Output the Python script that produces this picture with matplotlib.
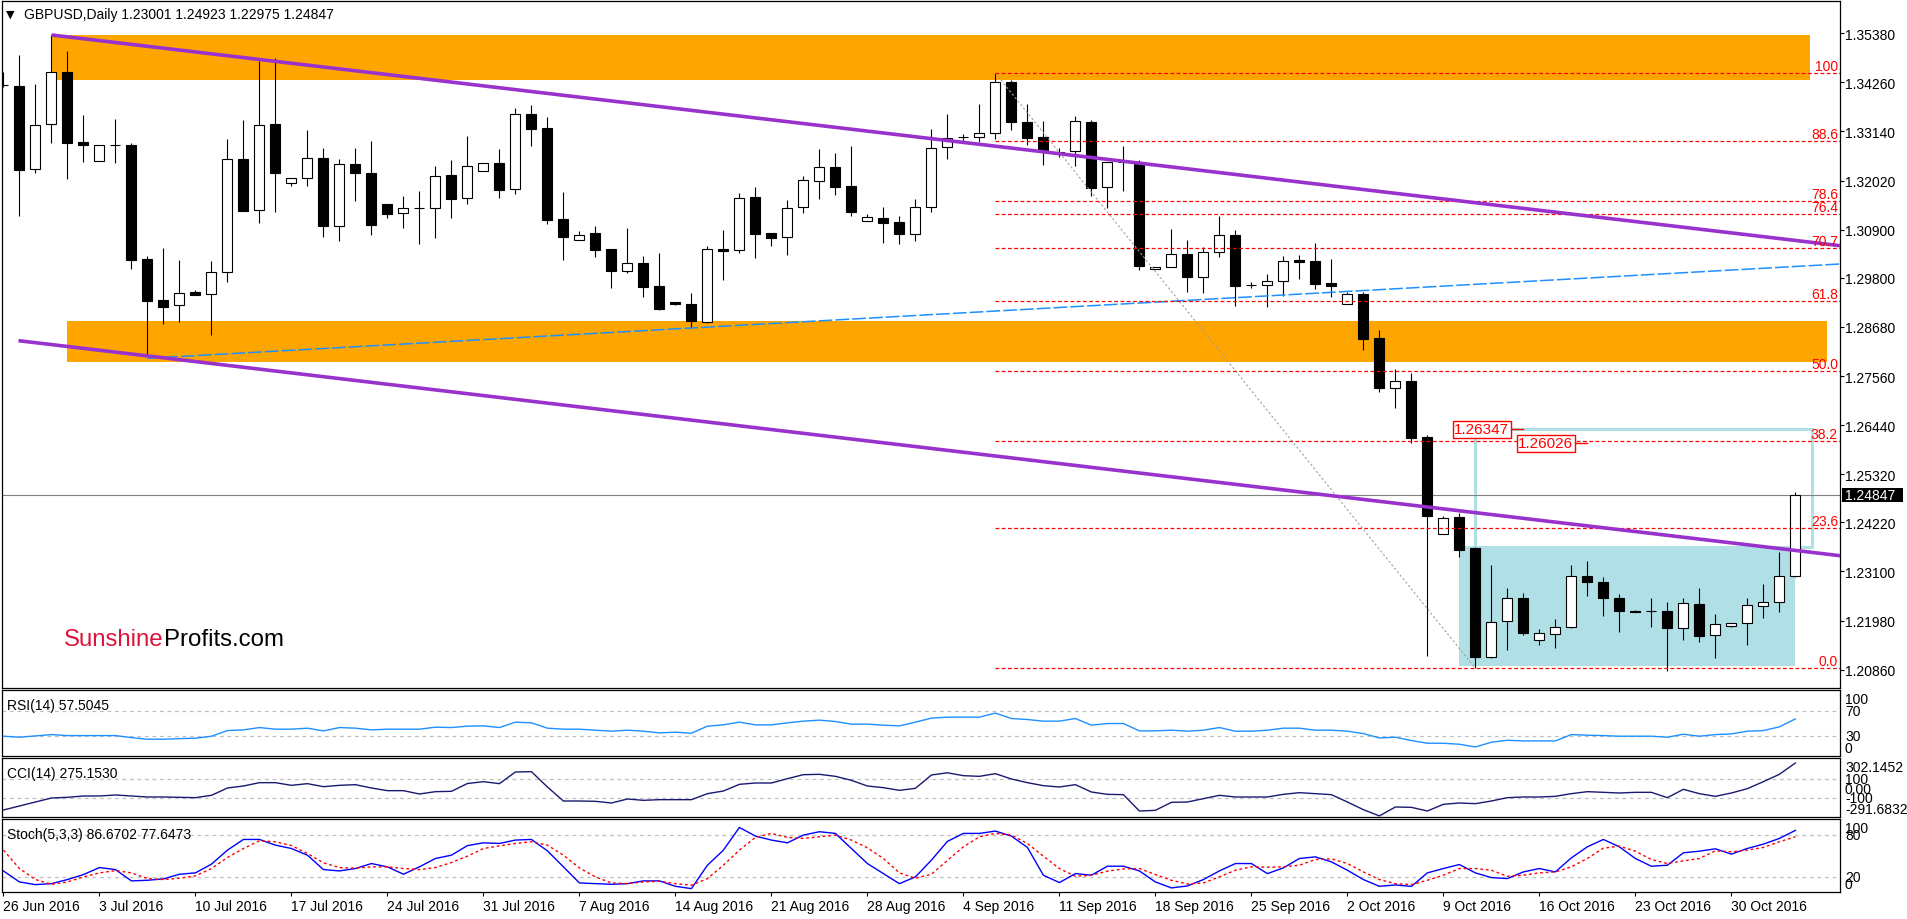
import numpy as np
import matplotlib
matplotlib.use('Agg')
import matplotlib.pyplot as plt
import matplotlib.transforms as mtransforms
from matplotlib.patches import Rectangle

plt.rcParams['font.family'] = ['Liberation Sans', 'DejaVu Sans']
plt.rcParams['font.size'] = 10

# GBPUSD daily, 26 Jun 2016 .. 3 Nov 2016 (broker with Sunday bars, 6 bars a week)
opens = [
    1.34205, 1.34170, 1.32290, 1.33303, 1.34490, 1.32892, 1.32459, 1.32824, 1.32831, 1.30230,
    1.29294, 1.29174, 1.29477, 1.29424, 1.29926, 1.32505, 1.31341, 1.33303, 1.31957, 1.32071,
    1.32527, 1.30990, 1.32397, 1.32192, 1.31478, 1.31272, 1.31400, 1.31387, 1.32140, 1.31615,
    1.32231, 1.32413, 1.31827, 1.33538, 1.33219, 1.31143, 1.30657, 1.30823, 1.30458, 1.29963,
    1.30139, 1.29621, 1.29249, 1.29203, 1.28799, 1.30458, 1.30428, 1.31644, 1.30816, 1.30725,
    1.31409, 1.32016, 1.32322, 1.31889, 1.31090, 1.31158, 1.31067, 1.30807, 1.31409, 1.32778,
    1.33013, 1.33007, 1.33098, 1.34261, 1.33349, 1.33007, 1.32664, 1.32687, 1.33356, 1.31866,
    1.32450, 1.32404, 1.30002, 1.30041, 1.30337, 1.29826, 1.30383, 1.30777, 1.29644, 1.29644,
    1.29735, 1.30200, 1.30177, 1.29675, 1.29196, 1.29424, 1.28421, 1.27280, 1.27453, 1.26162,
    1.23949, 1.24337, 1.23636, 1.21142, 1.21964, 1.22488, 1.21537, 1.21674, 1.21827, 1.23004,
    1.22853, 1.22488, 1.22206, 1.22192, 1.22192, 1.21804, 1.22352, 1.21651, 1.21849, 1.21918,
    1.22320, 1.22397, 1.23001]
highs = [
    1.34503, 1.34884, 1.34223, 1.35341, 1.34982, 1.33515, 1.32824, 1.33424, 1.32870, 1.30291,
    1.30481, 1.30207, 1.29523, 1.30177, 1.32968, 1.33401, 1.34754, 1.34809, 1.32071, 1.33173,
    1.32762, 1.32505, 1.32762, 1.32922, 1.31478, 1.31667, 1.31781, 1.32352, 1.32489, 1.33036,
    1.32420, 1.32740, 1.33682, 1.33744, 1.33470, 1.31759, 1.30862, 1.30983, 1.30458, 1.30937,
    1.30305, 1.30367, 1.29249, 1.29454, 1.30520, 1.30892, 1.31729, 1.31866, 1.30816, 1.31576,
    1.32124, 1.32740, 1.32648, 1.32808, 1.31257, 1.31409, 1.31204, 1.31599, 1.33196, 1.33538,
    1.33082, 1.33766, 1.34470, 1.34314, 1.33766, 1.33372, 1.32762, 1.33486, 1.33408, 1.32443,
    1.32815, 1.32482, 1.30054, 1.30914, 1.30657, 1.30497, 1.31218, 1.30892, 1.29712, 1.29888,
    1.30291, 1.30321, 1.30595, 1.30230, 1.29470, 1.29470, 1.28610, 1.27720, 1.27622, 1.26214,
    1.24366, 1.24428, 1.23666, 1.23248, 1.22717, 1.22609, 1.21788, 1.22016, 1.23248, 1.23346,
    1.22968, 1.22580, 1.22220, 1.22488, 1.22411, 1.22488, 1.22717, 1.22123, 1.21918, 1.22488,
    1.22808, 1.23552, 1.24923]
lows = [
    1.34147, 1.31218, 1.32185, 1.32877, 1.32055, 1.32450, 1.32459, 1.32420, 1.30002, 1.28040,
    1.28747, 1.28799, 1.29408, 1.28503, 1.29712, 1.31320, 1.31058, 1.31309, 1.31895, 1.31895,
    1.30739, 1.30647, 1.31560, 1.30777, 1.31165, 1.30944, 1.30572, 1.30709, 1.31165, 1.31492,
    1.32231, 1.31622, 1.31720, 1.32808, 1.31035, 1.30214, 1.30657, 1.30282, 1.29561, 1.29910,
    1.29356, 1.29066, 1.29180, 1.28649, 1.28770, 1.29758, 1.30367, 1.30246, 1.30533, 1.30328,
    1.31286, 1.31599, 1.31697, 1.31218, 1.31090, 1.30602, 1.30572, 1.30647, 1.31295, 1.32511,
    1.32906, 1.32892, 1.32968, 1.33180, 1.32838, 1.32381, 1.32550, 1.32359, 1.31674, 1.31387,
    1.31788, 1.29986, 1.30002, 1.30041, 1.29470, 1.29454, 1.30282, 1.29164, 1.29561, 1.29142,
    1.29393, 1.29774, 1.29545, 1.29370, 1.29196, 1.28160, 1.27188, 1.26830, 1.26025, 1.21179,
    1.23949, 1.23438, 1.20890, 1.21130, 1.21316, 1.21651, 1.21430, 1.21348, 1.21804, 1.22534,
    1.22091, 1.21713, 1.22170, 1.21840, 1.20824, 1.21544, 1.21485, 1.21119, 1.21826, 1.21430,
    1.22046, 1.22183, 1.22975]
closes = [
    1.34200, 1.32267, 1.33280, 1.34490, 1.32883, 1.32838, 1.32824, 1.32830, 1.30214, 1.29278,
    1.29142, 1.29447, 1.29415, 1.29926, 1.32505, 1.31332, 1.33280, 1.32199, 1.32071, 1.32527,
    1.30990, 1.32397, 1.32199, 1.31012, 1.31263, 1.31400, 1.31395, 1.32117, 1.31606, 1.32345,
    1.32420, 1.31811, 1.33531, 1.33203, 1.31127, 1.30739, 1.30771, 1.30442, 1.29963, 1.30132,
    1.29598, 1.29089, 1.29210, 1.28822, 1.30458, 1.30419, 1.31615, 1.30807, 1.30716, 1.31387,
    1.32025, 1.32322, 1.31879, 1.31309, 1.31181, 1.31058, 1.30807, 1.31409, 1.32756, 1.32984,
    1.33018, 1.33098, 1.34261, 1.33349, 1.32997, 1.32724, 1.32648, 1.33372, 1.31857, 1.32443,
    1.32432, 1.30077, 1.30054, 1.30337, 1.29826, 1.30383, 1.30777, 1.29621, 1.29640, 1.29735,
    1.30191, 1.30161, 1.29659, 1.29621, 1.29424, 1.28411, 1.27280, 1.27453, 1.26139, 1.24373,
    1.24314, 1.23597, 1.21142, 1.21941, 1.22488, 1.21697, 1.21690, 1.21827, 1.23004, 1.22853,
    1.22488, 1.22206, 1.22183, 1.22188, 1.21804, 1.22374, 1.21621, 1.21902, 1.21918, 1.22342,
    1.22397, 1.23004, 1.24847]

rsi = [
    29.9, 28.3, 30.4, 32.5, 30.9, 30.9, 30.9, 30.9, 27.7, 25.1,
    25.1, 26.1, 26.7, 29.9, 38.9, 40.0, 43.7, 41.1, 41.1, 42.7,
    38.4, 43.7, 42.7, 40.0, 41.1, 41.1, 41.1, 44.3, 43.7, 45.9,
    46.4, 43.7, 52.3, 51.2, 42.7, 41.1, 41.1, 39.5, 37.9, 39.5,
    37.9, 35.2, 36.3, 34.7, 45.9, 48.0, 52.3, 48.0, 48.0, 51.2,
    53.9, 55.5, 53.3, 49.1, 49.1, 47.5, 46.4, 52.3, 58.7, 60.3,
    60.3, 60.3, 66.7, 58.1, 56.5, 53.9, 53.9, 58.1, 47.5, 50.1,
    50.1, 38.4, 38.4, 39.5, 37.9, 39.5, 43.7, 37.9, 37.9, 39.5,
    42.7, 42.7, 39.5, 39.5, 37.9, 34.1, 27.2, 28.3, 23.0, 18.7,
    18.7, 17.1, 12.8, 20.3, 23.5, 22.4, 22.4, 22.4, 32.5, 31.5,
    30.9, 29.9, 29.9, 29.9, 28.3, 33.1, 29.9, 32.5, 33.6, 37.9,
    38.9, 44.8, 57.5045]
cci = [
    -228.5, -185.6, -142.8, -99.9, -92.8, -78.5, -78.5, -67.8, -78.5, -89.2,
    -89.2, -92.8, -96.4, -71.4, 7.2, 28.6, 64.3, 64.3, 35.7, 53.6,
    21.4, 35.7, 42.9, 7.2, -21.4, -21.4, -57.1, -32.1, -28.5, 55.0,
    75.0, 53.6, 178.6, 182.1, 17.9, -132.1, -132.1, -135.6, -153.5, -110.7,
    -125.0, -117.8, -117.8, -117.8, -53.5, -25.0, 46.4, 60.7, 60.7, 107.1,
    150.0, 153.6, 132.1, 89.3, 28.6, 10.7, -17.8, 3.6, 146.4, 170.0,
    139.3, 132.1, 160.7, 103.6, 64.3, 32.2, 17.9, 42.9, -35.7, -60.7,
    -64.2, -239.2, -232.1, -146.4, -142.8, -107.1, -71.4, -89.2, -89.2, -89.2,
    -60.7, -42.8, -53.5, -64.2, -142.8, -225.0, -291.7, -196.4, -200.0, -239.2,
    -167.8, -153.5, -160.6, -132.1, -96.4, -89.2, -89.2, -82.1, -53.5, -32.1,
    -39.2, -46.4, -39.2, -39.2, -96.4, -7.1, -53.5, -82.1, -46.4, 0.0,
    75.0, 153.6, 275.1530]
stoch_k = [
    29.0, 13.3, 9.5, 10.9, 16.7, 23.8, 33.8, 30.9, 14.8, 15.7,
    17.6, 24.3, 26.2, 38.6, 58.6, 73.8, 73.8, 65.7, 60.9, 51.4,
    30.9, 29.0, 32.4, 39.5, 34.8, 24.3, 34.8, 46.7, 51.4, 65.0,
    69.0, 68.1, 72.9, 73.8, 57.6, 34.8, 11.9, 10.9, 10.0, 10.9,
    14.8, 14.8, 7.1, 3.8, 37.1, 58.6, 90.9, 78.6, 72.9, 69.0,
    80.0, 84.8, 82.4, 60.9, 39.5, 25.2, 10.9, 20.5, 44.3, 71.0,
    82.4, 82.4, 85.7, 78.6, 62.4, 22.9, 12.4, 25.2, 22.9, 35.7,
    35.7, 29.0, 13.3, 4.8, 7.6, 16.7, 29.0, 39.5, 39.5, 25.2,
    33.3, 46.7, 49.0, 41.9, 30.0, 16.7, 7.1, 9.0, 7.0, 26.2,
    32.4, 38.1, 26.2, 19.5, 18.1, 27.6, 32.4, 27.6, 47.6, 63.3,
    73.8, 63.3, 46.7, 35.7, 37.1, 54.8, 57.1, 60.5, 52.9, 61.0,
    67.1, 75.2, 86.6702]
stoch_d = [
    58.6, 32.4, 16.7, 10.0, 13.3, 20.5, 26.2, 29.5, 26.2, 18.1,
    16.7, 18.6, 21.9, 32.4, 48.1, 60.9, 71.9, 70.5, 65.2, 53.8,
    40.5, 33.8, 32.9, 34.8, 34.8, 32.4, 30.9, 33.8, 40.9, 50.0,
    60.9, 64.7, 68.1, 70.5, 65.7, 51.4, 33.3, 20.5, 11.9, 10.9,
    13.3, 14.3, 10.9, 8.6, 18.1, 37.1, 58.6, 76.7, 82.4, 76.7,
    75.2, 77.6, 80.0, 72.9, 61.9, 46.7, 26.2, 18.6, 24.3, 44.0,
    63.3, 77.6, 82.4, 80.0, 68.1, 50.0, 32.4, 21.4, 22.9, 28.6,
    31.9, 32.4, 23.8, 15.7, 10.5, 11.9, 20.5, 30.0, 34.8, 34.3,
    34.8, 37.1, 45.2, 46.2, 39.5, 27.6, 16.7, 10.9, 9.5, 15.7,
    22.9, 32.4, 32.4, 30.0, 21.4, 22.9, 26.2, 27.6, 34.8, 46.7,
    61.4, 64.3, 57.1, 45.2, 39.5, 43.3, 46.7, 57.6, 56.2, 58.6,
    62.4, 70.5, 77.6473]

price_ticks = [1.35380, 1.34260, 1.33140, 1.32020, 1.30900, 1.29800, 1.28680,
               1.27560, 1.26440, 1.25320, 1.24220, 1.23100, 1.21980, 1.20860]
date_bars = list(range(0, 109, 6))
date_labels = ['26 Jun 2016', '3 Jul 2016', '10 Jul 2016', '17 Jul 2016', '24 Jul 2016',
               '31 Jul 2016', '7 Aug 2016', '14 Aug 2016', '21 Aug 2016', '28 Aug 2016',
               '4 Sep 2016', '11 Sep 2016', '18 Sep 2016', '25 Sep 2016', '2 Oct 2016',
               '9 Oct 2016', '16 Oct 2016', '23 Oct 2016', '30 Oct 2016']

# drawings (bar index, price)
fib_start, fib_end = 62, 92
fib_high, fib_low = 1.34470, 1.20890
fib_levels = [0.0, 0.236, 0.382, 0.5, 0.618, 0.707, 0.764, 0.786, 0.886, 1.0]
fib_labels = ['0.0', '23.6', '38.2', '50.0', '61.8', '70.7', '76.4', '78.6', '88.6', '100']
zone_upper = (3.0, 112.9, 1.34314, 1.35341)
zone_lower = (4.0, 113.95, 1.27887, 1.28815)
box_fill = (91, 112, 1.20951, 1.23675)
box_target = (92, 113.05, 1.23652, 1.26347)
chan_upper = ((3, 1.35341), (114.8, 1.30533))
chan_lower = ((0.94, 1.28366), (114.8, 1.23460))
blue_line = ((9, 1.27964), (114.8, 1.30116))
price_marks = [(95, 1.26347), (99, 1.26026)]
cci_max, cci_min = 302.1452, -291.6832

W, H = 1908, 920
fig = plt.figure(figsize=(W / 100, H / 100), dpi=100)


def panel(top, bottom):
    return fig.add_axes([2 / W, 1 - bottom / H, 1838 / W, (bottom - top) / H])


ax = panel(2, 689)
ax_rsi = panel(691, 757)
ax_cci = panel(759, 818)
ax_sto = panel(820, 893)

n = len(closes)
x = np.arange(n)
o, h, l, c = (np.array(v) for v in (opens, highs, lows, closes))
xlim = (-0.09, 114.79)

for a in (ax, ax_rsi, ax_cci, ax_sto):
    a.set_xlim(xlim)
    a.tick_params(axis='x', bottom=False, labelbottom=False)
    a.tick_params(axis='y', left=False, labelleft=False, right=False, labelright=False)
    for s in a.spines.values():
        s.set_linewidth(0.9)
        s.set_color('black')

# ---- main price panel ----
ax.set_ylim(1.20442, 1.36116)
ax.set_yticks(price_ticks)
ax.set_yticklabels([f'{p:.5f}' for p in price_ticks])
ax.tick_params(axis='y', right=True, labelright=True, direction='out', length=3,
               width=0.8, pad=0.5, labelsize=10)

for (x0, x1, y0, y1) in (zone_upper, zone_lower):
    ax.add_patch(Rectangle((x0, y0), x1 - x0, y1 - y0, facecolor='#FFA500',
                           edgecolor='none', zorder=1))
x0, x1, y0, y1 = box_fill
ax.add_patch(Rectangle((x0, y0), x1 - x0, y1 - y0, facecolor='#B0E0E6',
                       edgecolor='none', zorder=1))
x0, x1, y0, y1 = box_target
ax.add_patch(Rectangle((x0, y0), x1 - x0, y1 - y0, fill=False,
                       edgecolor='#B0E0E6', lw=2.2, zorder=2))

ax.axhline(c[-1], color='#808080', lw=0.8, zorder=2)

# candles
ax.vlines(x, l, h, color='black', lw=0.8, zorder=3)
body_lo = np.minimum(o, c)
body_h = np.maximum(np.abs(c - o), 0.00003)
ax.bar(x, body_h, 0.62, bottom=body_lo, color=np.where(c >= o, 'white', 'black'),
       edgecolor='black', linewidth=0.8, zorder=4)

# trend lines
for (p0, p1) in (chan_upper, chan_lower):
    ax.plot([p0[0], p1[0]], [p0[1], p1[1]], color='#9932CC', lw=2.6,
            solid_capstyle='butt', zorder=6)
ax.plot([blue_line[0][0], blue_line[1][0]], [blue_line[0][1], blue_line[1][1]],
        color='#1E90FF', lw=1.1, dashes=(9, 2), zorder=5)

# fibonacci retracement
ax.plot([fib_start, fib_end], [fib_high, fib_low], color='#A0A0A0', lw=0.8,
        ls=(0, (2, 2)), zorder=5)
fib_prices = [fib_low + lv * (fib_high - fib_low) for lv in fib_levels]
ax.hlines(fib_prices, fib_start, xlim[1], color='#FF0000', lw=0.9,
          linestyles=(0, (3, 2)), zorder=5)
lab_tr = mtransforms.offset_copy(ax.get_yaxis_transform(), fig=fig, x=-2, y=3,
                                 units='dots')
for fp, fl in zip(fib_prices, fib_labels):
    ax.text(1.0, fp, fl, transform=lab_tr, ha='right', va='baseline',
            color='#FF0000', fontsize=10, zorder=7)

# price labels
for bx, bp in price_marks:
    ax.plot([bx - 0.7, bx], [bp, bp], color='#FF0000', lw=1, zorder=7)
    ttr = mtransforms.offset_copy(ax.transData, fig=fig, x=-3, y=0, units='dots')
    ax.text(bx - 0.7, bp, f'{bp:.5f}', transform=ttr, ha='right', va='center',
            color='#FF0000', fontsize=11, zorder=8,
            bbox=dict(boxstyle='square,pad=0.1', facecolor='white',
                      edgecolor='#FF0000', lw=1))

# current price tag on axis
ytr = ax.get_yaxis_transform()
px_p = (1.36116 - 1.20442) / 687
ax.add_patch(Rectangle((1.0 + 2 / 1838, c[-1] - 7 * px_p), 61 / 1838, 14 * px_p,
                       transform=ytr, facecolor='black', edgecolor='none',
                       clip_on=False, zorder=9))
ax.text(1.0 + 5 / 1838, c[-1], f'{c[-1]:.5f}', transform=ytr, ha='left',
        va='center', color='white', fontsize=10, zorder=10, clip_on=False)

# header and watermark
htr = mtransforms.offset_copy(ax.transAxes, fig=fig, x=22, y=-16.5, units='dots')
ax.text(0, 1, f'GBPUSD,Daily {o[-1]:.5f} {h[-1]:.5f} {l[-1]:.5f} {c[-1]:.5f}',
        transform=htr, ha='left', va='baseline', fontsize=10, zorder=10)
ttr2 = mtransforms.offset_copy(ax.transAxes, fig=fig, x=4, y=-16, units='dots')
ax.text(0, 1, '\u25bc', transform=ttr2, ha='left', va='baseline', fontsize=8,
        family=['DejaVu Sans'], zorder=10)
wtr = mtransforms.offset_copy(ax.transAxes, fig=fig, x=62, y=43, units='dots')
t1 = ax.text(0, 0, 'Sunshine', transform=wtr, ha='left', va='baseline',
             color='#DC143C', fontsize=17.3, zorder=10)
ax.annotate('Profits.com', xy=(1, 0), xycoords=t1, ha='left', va='bottom',
            color='black', fontsize=17.3, zorder=10)

# ---- indicator panels ----
grid_kw = dict(color='#C0C0C0', lw=0.9, ls=(0, (3, 3)), zorder=1)
ltr = lambda a: mtransforms.offset_copy(a.get_yaxis_transform(), fig=fig, x=5,
                                        y=0, units='dots')
ttl = lambda a: mtransforms.offset_copy(a.transAxes, fig=fig, x=5, y=-19,
                                        units='dots')

ax_rsi.set_ylim(-1.6, 103.5)
for lv in (70, 30):
    ax_rsi.axhline(lv, **grid_kw)
ax_rsi.plot(x, rsi, color='#1E90FF', lw=1, zorder=3)
ax_rsi.text(0, 1, f'RSI(14) {rsi[-1]:.4f}', transform=ttl(ax_rsi), va='baseline')
for val, txt, va in ((100, '100', 'top'), (70, '70', 'center'),
                     (30, '30', 'center'), (0, '0', 'bottom')):
    ax_rsi.text(1.0, val, txt, transform=ltr(ax_rsi), va=va, ha='left', clip_on=False)

ax_cci.set_ylim(-303.5, 328.5)
for lv in (100, -100):
    ax_cci.axhline(lv, **grid_kw)
ax_cci.plot(x, cci, color='#191970', lw=1, zorder=3)
ax_cci.text(0, 1, f'CCI(14) {cci[-1]:.4f}', transform=ttl(ax_cci), va='baseline')
for val, txt, va in ((cci_max, f'{cci_max:.4f}', 'top'), (100, '100', 'center'),
                     (0, '0.00', 'center'), (-100, '-100', 'center'),
                     (cci_min, f'{cci_min:.4f}', 'bottom')):
    ax_cci.text(1.0, val, txt, transform=ltr(ax_cci), va=va, ha='left', clip_on=False)

ax_sto.set_ylim(-1.0, 102.9)
for lv in (80, 20):
    ax_sto.axhline(lv, **grid_kw)
ax_sto.plot(x, stoch_k, color='#0000FF', lw=1, zorder=3)
ax_sto.plot(x, stoch_d, color='#FF0000', lw=1, ls=(0, (2, 2)), zorder=3)
ax_sto.text(0, 1, f'Stoch(5,3,3) {stoch_k[-1]:.4f} {stoch_d[-1]:.4f}',
            transform=ttl(ax_sto), va='baseline')
for val, txt, va in ((100, '100', 'top'), (80, '80', 'center'),
                     (20, '20', 'center'), (0, '0', 'bottom')):
    ax_sto.text(1.0, val, txt, transform=ltr(ax_sto), va=va, ha='left', clip_on=False)

ax_sto.set_xticks(date_bars)
ax_sto.set_xticklabels(date_labels)
ax_sto.tick_params(axis='x', bottom=True, labelbottom=True, direction='out',
                   length=3, width=0.8, pad=2, labelsize=10)
for t in ax_sto.get_xticklabels():
    t.set_horizontalalignment('left')

fig.savefig('out.png', dpi=100)
